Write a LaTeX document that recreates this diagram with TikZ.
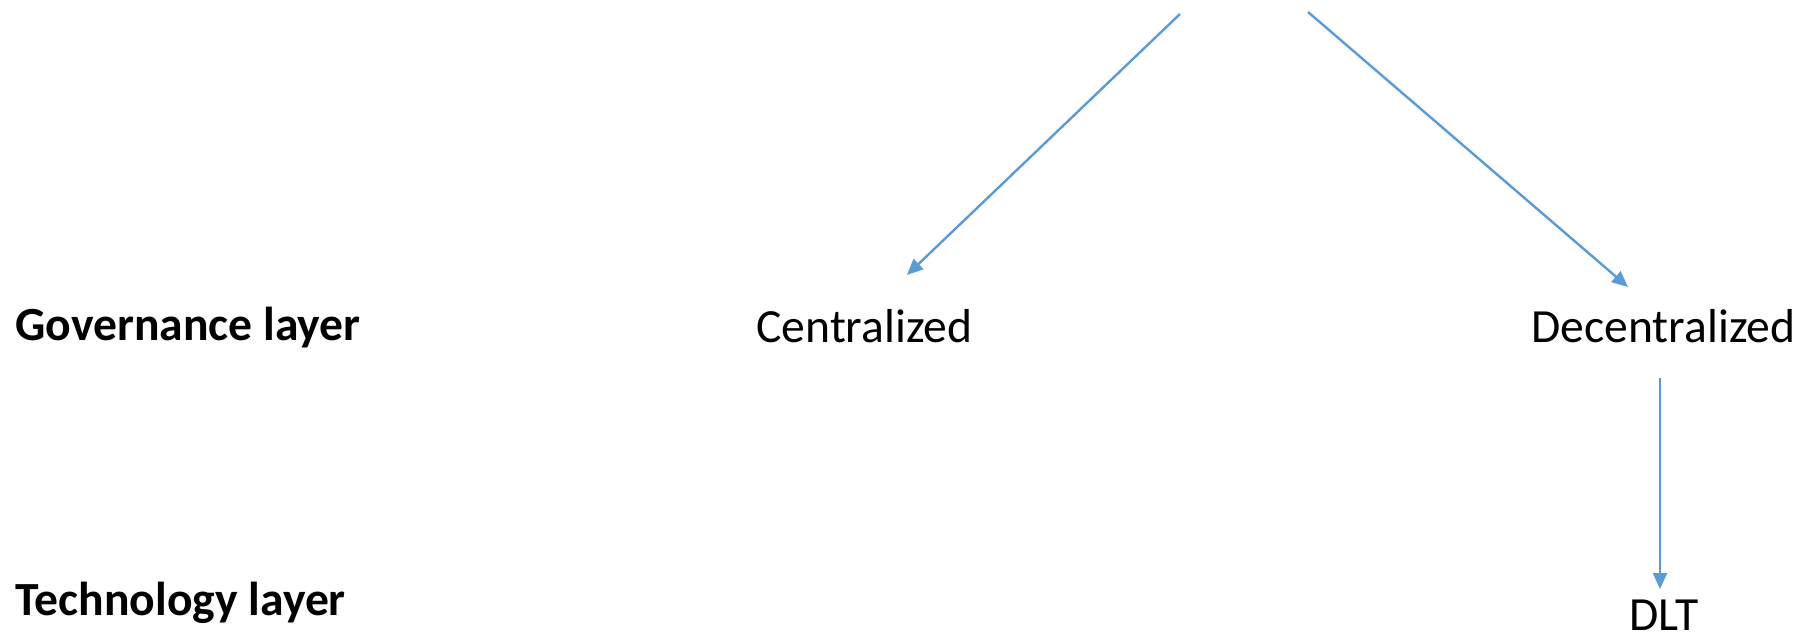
\documentclass[tikz,border=0pt]{standalone}
\usepackage{fontspec}
\setmainfont{Carlito}
\usetikzlibrary{arrows.meta}
\definecolor{lineblue}{HTML}{5B9BD5}
\begin{document}
\begin{tikzpicture}[x=0.5pt,y=-0.5pt,
  lbl/.style={anchor=base west,inner sep=0pt,font=\fontsize{23.8}{28}\selectfont},
  layer/.style={lbl,font=\fontsize{23.8}{28}\selectfont\bfseries},
  conn/.style={draw=lineblue,line width=1.2pt,-{Triangle[length=8pt,width=7pt]}}]
\useasboundingbox (0,0) rectangle (1799,637);
\node[layer] (gov) at (15,340) {Governance layer};
\node[layer] (tech) at (15,615) {Technology layer};
\node[lbl] (cen) at (756,342.5) {Centralized};
\node[lbl] (dec) at (1531,342) {Decentralized};
\node[lbl] (dlt) at (1629,630) {DLT};
\coordinate (s1) at (1180,14);
\coordinate (s2) at (1308,12);
\coordinate (e1) at (907,275);
\coordinate (e2) at (1628,287);
\coordinate (s3) at (1660,378);
\coordinate (e3) at (1660,589);
\draw[conn] (s1) -- (e1);
\draw[conn] (s2) -- (e2);
\draw[conn] (s3) -- (e3);
\end{tikzpicture}
\end{document}
